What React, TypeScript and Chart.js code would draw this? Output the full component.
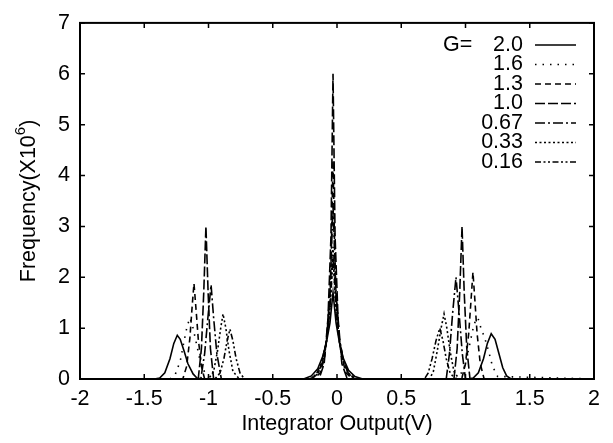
import React, { useEffect, useRef } from "react";
import { Chart, registerables } from "chart.js";
Chart.register(...registerables);

// Gain values (legend labels)
const gainLabels = ["2.0", "1.6", "1.3", "1.0", "0.67", "0.33", "0.16"];

// G = 2.0
const x2_0 = [-2, -1.42, -1.38, -1.34, -1.3, -1.27, -1.243, -1.22, -1.19, -1.16, -1.12, -1.09, -1.05, -0.26, -0.2, -0.15, -0.11, -0.08, -0.055, -0.031, -0.007, 0.02, 0.05, 0.09, 0.14, 0.2, 1.02, 1.06, 1.1, 1.14, 1.17, 1.2, 1.23, 1.26, 1.29, 1.32, 1.35, 2];
const y2_0 = [0, 0, 0.02, 0.12, 0.4, 0.7, 0.86, 0.78, 0.55, 0.3, 0.1, 0.02, 0, 0, 0.06, 0.2, 0.45, 0.75, 1.1, 1.7, 1.1, 0.7, 0.4, 0.17, 0.05, 0, 0, 0.02, 0.12, 0.4, 0.7, 0.89, 0.78, 0.5, 0.22, 0.06, 0.01, 0];
// G = 1.6
const x1_6 = [-2, -1.3, -1.26, -1.22, -1.19, -1.165, -1.144, -1.12, -1.09, -1.06, -1.02, -0.98, -0.22, -0.16, -0.12, -0.085, -0.055, -0.031, -0.007, 0.022, 0.055, 0.1, 0.16, 0.92, 0.96, 1.0, 1.03, 1.06, 1.08, 1.097, 1.12, 1.15, 1.18, 1.21, 1.25, 2];
const y1_6 = [0, 0, 0.08, 0.35, 0.75, 1.05, 1.2, 1.0, 0.65, 0.3, 0.08, 0, 0, 0.08, 0.3, 0.7, 1.3, 2.4, 1.3, 0.65, 0.28, 0.08, 0, 0, 0.08, 0.3, 0.65, 1.0, 1.17, 1.2, 1.0, 0.8, 0.55, 0.25, 0.05, 0];
// G = 1.3
const x1_3 = [-2, -1.2, -1.17, -1.145, -1.128, -1.113, -1.098, -1.08, -1.055, -1.03, -0.18, -0.13, -0.095, -0.07, -0.048, -0.031, -0.014, 0.008, 0.035, 0.07, 0.12, 0.97, 1.0, 1.025, 1.043, 1.058, 1.073, 1.09, 1.115, 1.145, 2];
const y1_3 = [0, 0, 0.25, 0.8, 1.4, 1.88, 1.4, 0.8, 0.25, 0, 0, 0.12, 0.45, 1.0, 2.0, 4.3, 2.0, 1.0, 0.45, 0.12, 0, 0, 0.3, 0.9, 1.55, 2.1, 1.55, 0.9, 0.3, 0, 0];
// G = 1.0
const x1_0 = [-2, -1.08, -1.055, -1.037, -1.02, -1.003, -0.985, -0.96, -0.14, -0.1, -0.07, -0.047, -0.031, -0.015, 0.008, 0.038, 0.08, 0.91, 0.935, 0.955, 0.973, 0.99, 1.01, 1.035, 2];
const y1_0 = [0, 0, 0.6, 1.7, 3.0, 1.7, 0.6, 0, 0, 0.3, 1.2, 2.8, 6.0, 2.8, 1.2, 0.3, 0, 0, 0.6, 1.7, 3.0, 1.7, 0.6, 0, 0];
// G = 0.67
const x0_67 = [-2, -1.06, -1.03, -1.005, -0.98, -0.96, -0.935, -0.9, -0.2, -0.15, -0.11, -0.08, -0.055, -0.031, -0.007, 0.018, 0.05, 0.09, 0.14, 0.85, 0.875, 0.9, 0.926, 0.95, 0.975, 1.0, 2];
const y0_67 = [0, 0, 0.5, 1.2, 1.85, 1.2, 0.5, 0, 0, 0.1, 0.35, 0.8, 1.7, 3.4, 1.7, 0.8, 0.35, 0.1, 0, 0, 0.5, 1.3, 2.0, 1.3, 0.5, 0, 0];
// G = 0.33
const x0_33 = [-2, -1.0, -0.96, -0.93, -0.905, -0.887, -0.865, -0.84, -0.81, -0.76, -0.2, -0.15, -0.11, -0.08, -0.055, -0.031, -0.007, 0.018, 0.05, 0.09, 0.14, 0.72, 0.75, 0.78, 0.81, 0.833, 0.855, 0.88, 0.91, 0.95, 2];
const y0_33 = [0, 0, 0.15, 0.55, 1.0, 1.28, 1.0, 0.55, 0.15, 0, 0, 0.1, 0.32, 0.75, 1.4, 2.6, 1.4, 0.75, 0.32, 0.1, 0, 0, 0.15, 0.55, 1.0, 1.28, 1.0, 0.55, 0.15, 0, 0];
// G = 0.16
const x0_16 = [-2, -0.95, -0.91, -0.88, -0.855, -0.833, -0.81, -0.785, -0.755, -0.72, -0.21, -0.16, -0.12, -0.085, -0.057, -0.031, -0.005, 0.023, 0.055, 0.095, 0.15, 0.68, 0.71, 0.74, 0.77, 0.8, 0.825, 0.85, 0.88, 0.92, 2];
const y0_16 = [0, 0, 0.12, 0.4, 0.75, 0.98, 0.75, 0.4, 0.12, 0, 0, 0.1, 0.32, 0.72, 1.3, 2.4, 1.3, 0.72, 0.32, 0.1, 0, 0, 0.12, 0.4, 0.75, 1.0, 0.75, 0.4, 0.12, 0, 0];

const xTicks = [-2, -1.5, -1, -0.5, 0, 0.5, 1, 1.5, 2];
const yTicks = [0, 1, 2, 3, 4, 5, 6, 7];

const seriesX = [x2_0, x1_6, x1_3, x1_0, x0_67, x0_33, x0_16];
const seriesY = [y2_0, y1_6, y1_3, y1_0, y0_67, y0_33, y0_16];
const dashes: number[][] = [[], [1.5, 6], [6, 4], [10, 3], [10, 3, 2, 3], [2, 2.5], [6, 2.5, 2, 2.5, 2, 2.5]];

const FONT = "'Liberation Sans', Arial, Helvetica, sans-serif";
const FS = 21.5;

const framePlugin = {
  id: "frameAndLegend",
  afterDraw(chart: any) {
    const { ctx, chartArea: a, scales } = chart;
    const xs = scales.x, ys = scales.y;
    ctx.save();
    ctx.strokeStyle = "#000";
    ctx.lineWidth = 2;
    ctx.setLineDash([]);
    ctx.strokeRect(a.left, a.top, a.right - a.left, a.bottom - a.top);
    ctx.lineWidth = 1.5;
    const tl = 5;
    ctx.beginPath();
    xTicks.forEach((v) => {
      const px = xs.getPixelForValue(v);
      ctx.moveTo(px, a.bottom); ctx.lineTo(px, a.bottom - tl);
      ctx.moveTo(px, a.top); ctx.lineTo(px, a.top + tl);
    });
    yTicks.forEach((v) => {
      const py = ys.getPixelForValue(v);
      ctx.moveTo(a.left, py); ctx.lineTo(a.left + tl, py);
      ctx.moveTo(a.right, py); ctx.lineTo(a.right - tl, py);
    });
    ctx.stroke();

    // legend
    ctx.fillStyle = "#000";
    ctx.font = `${FS}px ${FONT}`;
    ctx.textBaseline = "middle";
    const rowY0 = 45, rowH = 19.5, textRight = 523, lx0 = 535, lx1 = 576;
    ctx.textAlign = "left";
    ctx.fillText("G=", 443, rowY0);
    gainLabels.forEach((lab, i) => {
      const y = rowY0 + i * rowH;
      ctx.textAlign = "right";
      ctx.fillText(lab, textRight, y);
      ctx.beginPath();
      ctx.setLineDash(dashes[i]);
      ctx.lineWidth = 1.6;
      ctx.moveTo(lx0, y); ctx.lineTo(lx1, y);
      ctx.stroke();
    });
    ctx.setLineDash([]);

    // y-axis title with superscript
    ctx.translate(27, (a.top + a.bottom) / 2);
    ctx.rotate(-Math.PI / 2);
    const main = "Frequency(X10";
    const sup = "6";
    const close = ")";
    ctx.font = `${FS}px ${FONT}`;
    const w1 = ctx.measureText(main).width;
    const w3 = ctx.measureText(close).width;
    ctx.font = `15px ${FONT}`;
    const w2 = ctx.measureText(sup).width;
    const total = w1 + w2 + w3;
    let x = -total / 2;
    ctx.textAlign = "left";
    ctx.textBaseline = "alphabetic";
    ctx.font = `${FS}px ${FONT}`;
    ctx.fillText(main, x, 8);
    x += w1;
    ctx.font = `15px ${FONT}`;
    ctx.fillText(sup, x, -2);
    x += w2;
    ctx.font = `${FS}px ${FONT}`;
    ctx.fillText(close, x, 8);
    ctx.restore();
  },
};

export default function App() {
  const ref = useRef<HTMLCanvasElement | null>(null);
  useEffect(() => {
    if (!ref.current) return;
    const datasets = gainLabels.map((lab, i) => ({
      label: "G=" + lab,
      data: seriesX[i].map((xv, j) => ({ x: xv, y: seriesY[i][j] })),
      borderColor: "#000",
      backgroundColor: "#000",
      borderWidth: 1.6,
      borderDash: dashes[i],
      pointRadius: 0,
      fill: false,
      tension: 0,
    }));
    const chart = new Chart(ref.current, {
      type: "line",
      data: { datasets },
      options: {
        responsive: false,
        animation: false,
        layout: { padding: { top: 18, right: 19, left: 0, bottom: 0 } },
        plugins: { legend: { display: false }, tooltip: { enabled: false } },
        scales: {
          x: {
            type: "linear",
            min: -2,
            max: 2,
            afterFit: (s: any) => { s.height = 64; },
            afterBuildTicks: (s: any) => { s.ticks = xTicks.map((v) => ({ value: v })); },
            grid: { display: false, drawTicks: false },
            border: { display: false },
            ticks: { color: "#000", padding: 7, font: { family: FONT, size: FS }, maxRotation: 0, autoSkip: false, callback: (v: any) => String(v) },
            title: { display: true, text: "Integrator Output(V)", color: "#000", font: { family: FONT, size: FS }, padding: { top: 0, bottom: 6 } },
          },
          y: {
            type: "linear",
            min: 0,
            max: 7,
            afterFit: (s: any) => { s.width = 80; },
            afterBuildTicks: (s: any) => { s.ticks = yTicks.map((v) => ({ value: v })); },
            grid: { display: false, drawTicks: false },
            border: { display: false },
            ticks: { color: "#000", padding: 10, font: { family: FONT, size: FS }, callback: (v: any) => String(v) },
          },
        },
      },
      plugins: [framePlugin],
    });
    return () => chart.destroy();
  }, []);
  return (
    <div style={{ position: "absolute", left: 0, top: 0, width: 613, height: 443, background: "#fff" }}>
      <canvas ref={ref} width={613} height={443} style={{ display: "block" }} />
    </div>
  );
}
